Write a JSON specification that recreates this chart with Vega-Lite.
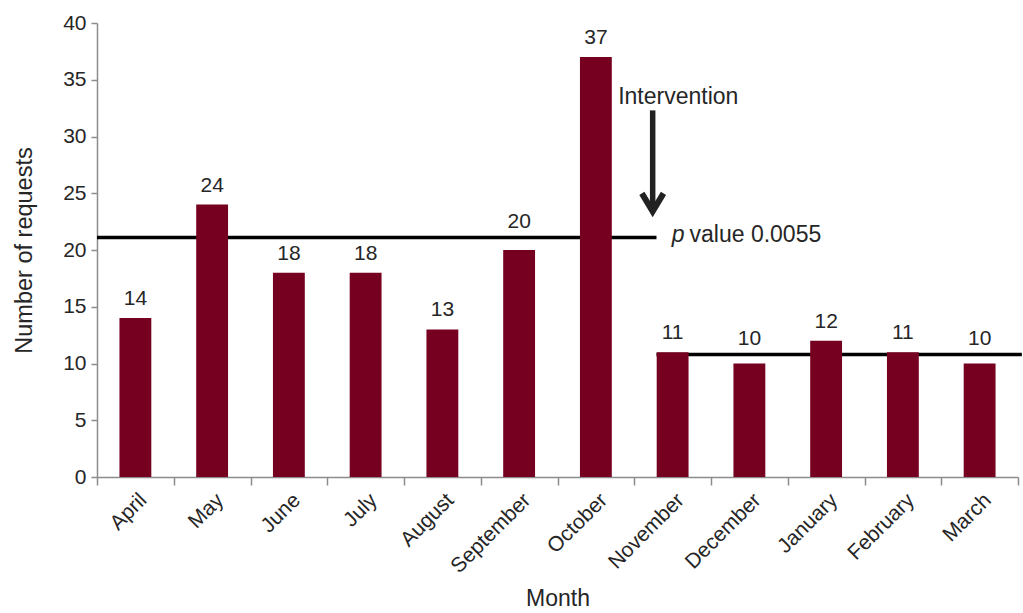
{
  "$schema": "https://vega.github.io/schema/vega-lite/v6.json",
  "width": 921,
  "height": 454,
  "autosize": {"type": "none"},
  "padding": {"left": 97, "top": 23, "right": 5, "bottom": 136},
  "background": "white",
  "config": {"font": "Liberation Sans", "view": {"stroke": null}},
  "data": {
    "values": [
      {"month": "April", "requests": 14},
      {"month": "May", "requests": 24},
      {"month": "June", "requests": 18},
      {"month": "July", "requests": 18},
      {"month": "August", "requests": 13},
      {"month": "September", "requests": 20},
      {"month": "October", "requests": 37},
      {"month": "November", "requests": 11},
      {"month": "December", "requests": 10},
      {"month": "January", "requests": 12},
      {"month": "February", "requests": 11},
      {"month": "March", "requests": 10}
    ]
  },
  "layer": [
    {
      "data": {"values": [{}]},
      "layer": [
        {
          "mark": {"type": "rule", "strokeWidth": 3.5, "color": "#000000"},
          "encoding": {
            "x": {"datum": 0, "type": "quantitative", "scale": {"domain": [0, 12], "nice": false, "zero": false}, "axis": null},
            "x2": {"datum": 7.29},
            "y": {"datum": 21.1, "type": "quantitative", "title": "Number of requests"}
          }
        },
        {
          "mark": {"type": "rule", "strokeWidth": 3.5, "color": "#000000"},
          "encoding": {
            "x": {"datum": 7.29, "type": "quantitative", "scale": {"domain": [0, 12], "nice": false, "zero": false}, "axis": null},
            "x2": {"datum": 12.05},
            "y": {"datum": 10.8, "type": "quantitative", "title": "Number of requests"}
          }
        },
        {
          "mark": {"type": "rule", "strokeWidth": 5.5, "color": "#222222", "strokeCap": "butt"},
          "encoding": {
            "x": {"datum": 7.24, "type": "quantitative", "scale": {"domain": [0, 12], "nice": false, "zero": false}, "axis": null},
            "y": {"datum": 32.3, "type": "quantitative", "title": "Number of requests"},
            "y2": {"datum": 23.7}
          }
        },
        {
          "mark": {"type": "point", "shape": "M-0.6,-1L0,0L0.6,-1", "filled": false, "size": 1296, "strokeWidth": 6, "color": "#222222", "opacity": 1, "strokeJoin": "miter", "strokeCap": "butt"},
          "encoding": {
            "x": {"datum": 7.24, "type": "quantitative", "scale": {"domain": [0, 12], "nice": false, "zero": false}, "axis": null},
            "y": {"datum": 23.4, "type": "quantitative", "title": "Number of requests"}
          }
        },
        {
          "mark": {"type": "text", "text": "Intervention", "align": "left", "baseline": "alphabetic", "fontSize": 23, "color": "#262626"},
          "encoding": {
            "x": {"datum": 6.79, "type": "quantitative", "scale": {"domain": [0, 12], "nice": false, "zero": false}, "axis": null},
            "y": {"datum": 32.88, "type": "quantitative", "title": "Number of requests"}
          }
        },
        {
          "mark": {"type": "text", "text": "p", "align": "left", "baseline": "alphabetic", "fontSize": 23, "fontStyle": "italic", "color": "#262626"},
          "encoding": {
            "x": {"datum": 7.49, "type": "quantitative", "scale": {"domain": [0, 12], "nice": false, "zero": false}, "axis": null},
            "y": {"datum": 20.7, "type": "quantitative", "title": "Number of requests"}
          }
        },
        {
          "mark": {"type": "text", "text": "value 0.0055", "align": "left", "baseline": "alphabetic", "fontSize": 23, "color": "#262626"},
          "encoding": {
            "x": {"datum": 7.72, "type": "quantitative", "scale": {"domain": [0, 12], "nice": false, "zero": false}, "axis": null},
            "y": {"datum": 20.7, "type": "quantitative", "title": "Number of requests"}
          }
        }
      ]
    },
    {
      "layer": [
        {
          "mark": {"type": "bar", "color": "#76001f", "width": {"band": 0.415}},
          "encoding": {
            "x": {
              "field": "month", "type": "nominal", "sort": null, "title": "Month",
              "scale": {"paddingInner": 0, "paddingOuter": 0},
              "axis": {
                "title": "Month", "tickBand": "extent", "labelAngle": -45,
                "labelFontSize": 21, "labelColor": "#262626", "labelPadding": 4,
                "domainColor": "#8c8c8c", "domainWidth": 1.5, "tickColor": "#8c8c8c", "tickWidth": 1.5, "tickSize": 8,
                "titleFontSize": 23, "titleFontWeight": "normal", "titleColor": "#262626",
                "titleY": 128, "titleBaseline": "alphabetic"
              }
            },
            "y": {
              "field": "requests", "type": "quantitative",
              "title": "Number of requests",
              "scale": {"domain": [0, 40], "nice": false},
              "axis": {
                "values": [0, 5, 10, 15, 20, 25, 30, 35, 40], "grid": false,
                "labelFontSize": 21, "labelColor": "#262626", "labelPadding": 5,
                "domainColor": "#8c8c8c", "domainWidth": 1.5, "tickColor": "#8c8c8c", "tickWidth": 1.5, "tickSize": 6,
                "titleFontSize": 23.5, "titleFontWeight": "normal", "titleColor": "#262626",
                "titleX": -66, "titleY": 227, "titleBaseline": "alphabetic"
              }
            }
          }
        },
        {
          "transform": [{"filter": "datum.month != 'September' && datum.month != 'December' && datum.month != 'March'"}],
          "mark": {"type": "text", "fontSize": 21, "color": "#262626", "baseline": "alphabetic", "dy": -13},
          "encoding": {
            "x": {"field": "month", "type": "nominal", "sort": null, "title": "Month"},
            "y": {"field": "requests", "type": "quantitative", "title": "Number of requests"},
            "text": {"field": "requests", "type": "quantitative"}
          }
        },
        {
          "transform": [{"filter": "datum.month == 'September'"}],
          "mark": {"type": "text", "fontSize": 21, "color": "#262626", "baseline": "alphabetic", "dy": -22},
          "encoding": {
            "x": {"field": "month", "type": "nominal", "sort": null, "title": "Month"},
            "y": {"field": "requests", "type": "quantitative", "title": "Number of requests"},
            "text": {"field": "requests", "type": "quantitative"}
          }
        },
        {
          "transform": [{"filter": "datum.month == 'December' || datum.month == 'March'"}],
          "mark": {"type": "text", "fontSize": 21, "color": "#262626", "baseline": "alphabetic", "dy": -19},
          "encoding": {
            "x": {"field": "month", "type": "nominal", "sort": null, "title": "Month"},
            "y": {"field": "requests", "type": "quantitative", "title": "Number of requests"},
            "text": {"field": "requests", "type": "quantitative"}
          }
        }
      ]
    }
  ],
  "resolve": {"scale": {"x": "independent"}}
}
